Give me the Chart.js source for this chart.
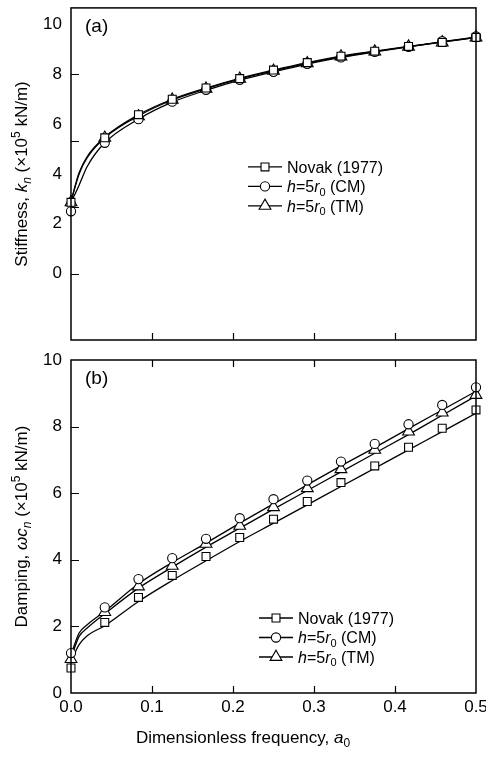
<!DOCTYPE html>
<html>
<head>
<meta charset="utf-8">
<script src="https://cdn.jsdelivr.net/npm/chart.js@4.4.1/dist/chart.umd.min.js"></script>
<style>
  html, body { margin: 0; padding: 0; background: #fff; }
  #wrap { width: 486px; height: 758px; }
  canvas { display: block; }
</style>
</head>
<body>
<div id="wrap">
  <canvas id="stiffness-chart" width="486" height="350"></canvas>
  <canvas id="damping-chart" width="486" height="408"></canvas>
</div>
<script>
// dimensionless frequency a0 at the markers
const a0Markers = [0, 0.0417, 0.0833, 0.125, 0.1667, 0.2083, 0.25, 0.2917, 0.3333, 0.375, 0.4167, 0.4583, 0.5];
const a0Curve = [0, 0.01, 0.02, 0.0417, 0.0833, 0.125, 0.1667, 0.2083, 0.25, 0.2917, 0.3333, 0.375, 0.4167, 0.4583, 0.5];
const freqTicks = [0, 0.1, 0.2, 0.3, 0.4, 0.5];

// (a) stiffness k_n, x10^5 kN/m
const stiffNovak = [2.86, 5.45, 6.38, 7.0, 7.45, 7.83, 8.17, 8.47, 8.73, 8.93, 9.12, 9.28, 9.48];
const stiffCM    = [2.5, 5.25, 6.2, 6.9, 7.38, 7.78, 8.1, 8.42, 8.68, 8.9, 9.1, 9.33, 9.52];
const stiffTM    = [2.86, 5.45, 6.31, 6.98, 7.42, 7.82, 8.14, 8.44, 8.71, 8.91, 9.11, 9.28, 9.48];
const stiffCurveNovak = [2.9, 4.05, 4.7, 5.48, 6.38, 7.0, 7.45, 7.84, 8.17, 8.47, 8.73, 8.93, 9.12, 9.3, 9.48];
const stiffCurveCM    = [2.85, 3.55, 4.3, 5.25, 6.2, 6.88, 7.36, 7.77, 8.1, 8.41, 8.68, 8.9, 9.1, 9.31, 9.5];
const stiffCurveTM    = [2.9, 4.0, 4.65, 5.45, 6.33, 6.97, 7.42, 7.82, 8.14, 8.44, 8.71, 8.91, 9.11, 9.29, 9.48];
const stiffTickLabels = [0, 2, 4, 6, 8, 10];
const stiffTickMarks  = [0, 2.667, 5.333, 8];
const stiffRange = [-2.667, 10.667];

// (b) damping omega*c_n, x10^5 kN/m
const dampNovak = [0.75, 2.12, 2.87, 3.53, 4.1, 4.67, 5.22, 5.75, 6.32, 6.82, 7.38, 7.95, 8.5];
const dampCM    = [1.2, 2.57, 3.42, 4.05, 4.63, 5.25, 5.82, 6.38, 6.95, 7.48, 8.07, 8.65, 9.18];
const dampTM    = [1.02, 2.43, 3.2, 3.82, 4.48, 5.02, 5.58, 6.15, 6.72, 7.3, 7.85, 8.42, 8.95];
const dampCurveNovak = [0.95, 1.45, 1.72, 2.02, 2.75, 3.38, 3.97, 4.55, 5.1, 5.65, 6.2, 6.75, 7.3, 7.85, 8.4];
const dampCurveCM    = [1.15, 1.8, 2.05, 2.45, 3.28, 3.92, 4.5, 5.1, 5.68, 6.25, 6.82, 7.37, 7.94, 8.5, 9.06];
const dampCurveTM    = [1.05, 1.7, 1.95, 2.38, 3.15, 3.78, 4.38, 4.95, 5.52, 6.08, 6.64, 7.2, 7.76, 8.34, 8.92];
const dampTickLabels = [0, 2, 4, 6, 8, 10];
const dampTickMarks  = [2, 4, 6, 8];
const dampRange = [0, 10];

const FONT = '"Liberation Sans", Arial, Helvetica, sans-serif';
Chart.defaults.font.family = FONT;
Chart.defaults.font.size = 17;
Chart.defaults.color = '#000';

const markerStyles = [
    { pointStyle: 'rect', radius: 5.6 },
    { pointStyle: 'circle', radius: 4.6 },
    { pointStyle: 'triangle', radius: 6.8 }
];

const legendNames = [
    [{ t: 'Novak (1977)' }],
    [{ t: 'h', i: true }, { t: '=5' }, { t: 'r', i: true }, { t: '0', sub: true }, { t: ' (CM)' }],
    [{ t: 'h', i: true }, { t: '=5' }, { t: 'r', i: true }, { t: '0', sub: true }, { t: ' (TM)' }]
];

function toPoints(xs, ys) {
    return xs.map((x, i) => ({ x: x, y: ys[i] }));
}

function curve(ys) {
    return {
        data: toPoints(a0Curve, ys),
        borderColor: '#000',
        borderWidth: 1.3,
        pointRadius: 0,
        cubicInterpolationMode: 'monotone',
        fill: false,
        clip: false,
        order: 1
    };
}

function markers(ys, style) {
    return {
        data: toPoints(a0Markers, ys),
        showLine: false,
        pointStyle: style.pointStyle,
        pointRadius: style.radius,
        pointBackgroundColor: '#fff',
        pointBorderColor: '#000',
        pointBorderWidth: 1.1,
        clip: false,
        order: 0
    };
}

// rich text: parts with italic / subscript / superscript
function partFont(p, size) {
    const s = (p.sub || p.sup) ? Math.round(size * 0.68) : size;
    return (p.i ? 'italic ' : '') + s + 'px ' + FONT;
}

function richWidth(ctx, parts, size) {
    let w = 0;
    parts.forEach(p => { ctx.font = partFont(p, size); w += ctx.measureText(p.t).width; });
    return w;
}

function drawRich(ctx, parts, x, y, size, align) {
    let cx = align === 'center' ? x - richWidth(ctx, parts, size) / 2 : x;
    ctx.textAlign = 'left';
    ctx.textBaseline = 'alphabetic';
    const base = y + size * 0.35;
    parts.forEach(p => {
        ctx.font = partFont(p, size);
        let dy = 0;
        if (p.sub) dy = size * 0.22;
        if (p.sup) dy = -size * 0.4;
        ctx.fillText(p.t, cx, base + dy);
        cx += ctx.measureText(p.t).width;
    });
}

function drawMarker(ctx, style, x, y) {
    ctx.fillStyle = '#fff';
    ctx.strokeStyle = '#000';
    ctx.lineWidth = 1.1;
    Chart.helpers.drawPoint(ctx, { pointStyle: style.pointStyle, radius: style.radius, rotation: 0, borderWidth: 1.1 }, x, y);
}

function makeDeco(cfg) {
    return {
        id: 'panelDeco',
        afterDatasetsDraw(chart) {
            const { ctx, chartArea: a, scales } = chart;
            const tick = 7;
            ctx.save();
            ctx.strokeStyle = '#000';
            ctx.lineWidth = 1.2;
            ctx.beginPath();
            cfg.yMarks.forEach(v => {
                const y = Math.round(scales.y.getPixelForValue(v)) + 0.5;
                ctx.moveTo(a.left, y);
                ctx.lineTo(a.left + tick + 1, y);
            });
            freqTicks.filter(v => v > 0 && v < 0.5).forEach(v => {
                const x = Math.round(scales.x.getPixelForValue(v)) + 0.5;
                ctx.moveTo(x, a.bottom);
                ctx.lineTo(x, a.bottom - tick);
                if (cfg.topTicks) {
                    ctx.moveTo(x, a.top);
                    ctx.lineTo(x, a.top + tick);
                }
            });
            ctx.stroke();
            ctx.lineWidth = 1.5;
            ctx.strokeRect(a.left, a.top, a.right - a.left, a.bottom - a.top);

            // panel label
            ctx.fillStyle = '#000';
            ctx.font = '19px ' + FONT;
            ctx.textAlign = 'left';
            ctx.textBaseline = 'middle';
            ctx.fillText(cfg.label, a.left + 14, a.top + 19);

            // legend
            legendNames.forEach((name, i) => {
                const lx = a.left + cfg.legendX;
                const ly = a.top + cfg.legendY + i * 19.5;
                ctx.strokeStyle = '#000';
                ctx.lineWidth = 1.3;
                ctx.beginPath();
                ctx.moveTo(lx, ly);
                ctx.lineTo(lx + 34, ly);
                ctx.stroke();
                drawMarker(ctx, markerStyles[i], lx + 17, ly);
                ctx.fillStyle = '#000';
                drawRich(ctx, name, lx + 39, ly, 16, 'left');
            });

            // axis titles
            ctx.fillStyle = '#000';
            ctx.save();
            ctx.translate(21, (a.top + a.bottom) / 2);
            ctx.rotate(-Math.PI / 2);
            drawRich(ctx, cfg.yTitle, 0, 0, 17, 'center');
            ctx.restore();
            if (cfg.xTitle) {
                drawRich(ctx, cfg.xTitle, chart.width / 2, cfg.xTitleY, 17, 'center');
            }
            ctx.restore();
        }
    };
}

function panelOptions(range, tickLabels, showX, pad, xHeight) {
    return {
        responsive: false,
        animation: false,
        events: [],
        layout: { padding: pad },
        plugins: { legend: { display: false }, tooltip: { enabled: false } },
        scales: {
            x: {
                type: 'linear',
                min: 0,
                max: 0.5,
                afterBuildTicks: s => { s.ticks = freqTicks.map(v => ({ value: v })); },
                afterFit: s => { s.height = xHeight; s.paddingLeft = 0; s.paddingRight = 0; },
                ticks: { display: showX, padding: 4, maxRotation: 0, autoSkip: false, callback: v => v.toFixed(1) },
                grid: { display: false, drawTicks: false },
                border: { display: false }
            },
            y: {
                type: 'linear',
                min: range[0],
                max: range[1],
                afterBuildTicks: s => { s.ticks = tickLabels.map(v => ({ value: v })); },
                afterFit: s => { s.width = 71; s.paddingTop = 0; s.paddingBottom = 0; },
                ticks: { padding: 9, callback: v => String(v) },
                grid: { display: false, drawTicks: false },
                border: { display: false }
            }
        }
    };
}

// (a) Stiffness
new Chart(document.getElementById('stiffness-chart'), {
    type: 'line',
    data: {
        datasets: [
            curve(stiffCurveNovak), curve(stiffCurveCM), curve(stiffCurveTM),
            markers(stiffNovak, markerStyles[0]), markers(stiffCM, markerStyles[1]), markers(stiffTM, markerStyles[2])
        ]
    },
    options: panelOptions(stiffRange, stiffTickLabels, false, { left: 0, right: 10, top: 5, bottom: 10 }, 0),
    plugins: [makeDeco({
        label: '(a)',
        yMarks: stiffTickMarks,
        topTicks: false,
        legendX: 177,
        legendY: 159,
        yTitle: [{ t: 'Stiffness, ' }, { t: 'k', i: true }, { t: 'n', i: true, sub: true }, { t: ' (×10' }, { t: '5', sup: true }, { t: ' kN/m)' }],
        xTitle: null
    })]
});

// (b) Damping
new Chart(document.getElementById('damping-chart'), {
    type: 'line',
    data: {
        datasets: [
            curve(dampCurveNovak), curve(dampCurveCM), curve(dampCurveTM),
            markers(dampNovak, markerStyles[0]), markers(dampCM, markerStyles[1]), markers(dampTM, markerStyles[2])
        ]
    },
    options: panelOptions(dampRange, dampTickLabels, true, { left: 0, right: 10, top: 10, bottom: 0 }, 65),
    plugins: [makeDeco({
        label: '(b)',
        yMarks: dampTickMarks,
        topTicks: true,
        legendX: 188,
        legendY: 258,
        yTitle: [{ t: 'Damping, ' }, { t: 'ωc', i: true }, { t: 'n', i: true, sub: true }, { t: ' (×10' }, { t: '5', sup: true }, { t: ' kN/m)' }],
        xTitle: [{ t: 'Dimensionless frequency, ' }, { t: 'a', i: true }, { t: '0', sub: true }],
        xTitleY: 387
    })]
});
</script>
</body>
</html>
